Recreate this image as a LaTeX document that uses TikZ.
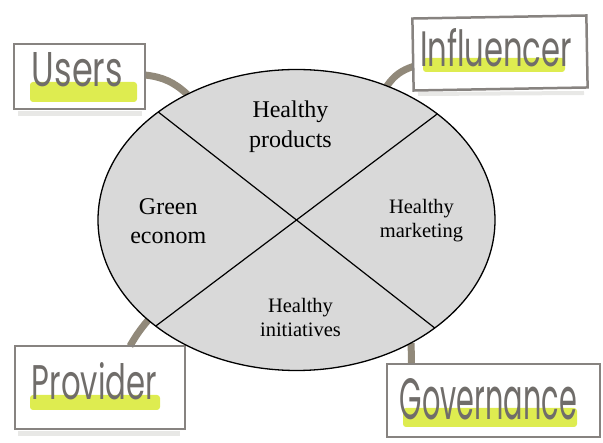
\documentclass[tikz,border=0pt]{standalone}
\usepackage{fontspec}
\setmainfont{Liberation Serif}
\newfontfamily\handfont{Poppins}
\usetikzlibrary{shapes.geometric}
\pgfdeclarelayer{background}
\pgfsetlayers{background,main}
\definecolor{ellfill}{RGB}{217,217,217}
\definecolor{boxgray}{RGB}{135,131,128}
\definecolor{conngray}{RGB}{145,137,122}
\definecolor{hlcol}{RGB}{222,236,80}
\definecolor{handgray}{RGB}{112,109,106}
\definecolor{smudge}{RGB}{232,232,230}
\begin{document}
\begin{tikzpicture}[x=1pt,y=-1pt,
  handbox/.style={draw=boxgray, line width=2.5pt, rectangle, inner sep=0pt, outer sep=0pt},
  handtext/.style={text=handgray, font=\handfont, inner sep=0pt, outer sep=0pt},
  hlmark/.style={fill=hlcol, rounded corners=3pt},
  conn/.style={draw=conngray, line width=7pt},
  big/.style={font=\fontsize{24}{29.5}\selectfont, align=center, inner sep=0pt},
  small/.style={font=\fontsize{20.5}{24}\selectfont, align=center, inner sep=0pt},
  divider/.style={draw=black, line width=1.2pt}
]
\useasboundingbox (0,0) rectangle (603,443);

% highlights
\begin{pgfonlayer}{background}
\fill[hlmark] (30,82) rectangle (137,102);
\fill[hlmark] (423,58) rectangle (565,72);
\fill[hlmark] (30,395) rectangle (160,410);
\fill[hlmark] (403,408) rectangle (577,427);
\draw[smudge, line width=5pt] (18,114) -- (142,114);
\draw[smudge, line width=5pt] (18,434) -- (180,434);
\draw[smudge, line width=4pt] (418,94) -- (584,93);
\end{pgfonlayer}

% boxes
\node[handbox, minimum width=131pt, minimum height=65pt] (users) at (79.5,76.5) {};
\node[handbox, minimum width=174pt, minimum height=72pt, rotate=1] (infl) at (500,53) {};
\node[handbox, minimum width=170pt, minimum height=83pt] (prov) at (100,387.5) {};
\node[handbox, minimum width=213pt, minimum height=73pt] (gov) at (493.5,400.5) {};

\node[handtext] (userst) at ([shift={(-2pt,6.5pt)}]users.center) {\resizebox{91pt}{34pt}{Users}};
\node[handtext] (inflt) at ([shift={(-4pt,5.5pt)}]infl.center) {\resizebox{152pt}{38pt}{Influencer}};
\node[handtext] (provt) at ([shift={(-5.5pt,6pt)}]prov.center) {\resizebox{125pt}{37pt}{Provider}};
\node[handtext] (govt) at ([shift={(-5pt,1.5pt)}]gov.center) {\resizebox{177pt}{41pt}{Governance}};

% ellipse
\node[ellipse, draw=black, line width=1.3pt, fill=ellfill, minimum width=397pt, minimum height=301pt, inner sep=0pt, outer sep=0pt] (ell) at (296.5,220) {};
\draw[divider] (ell.37.1) -- (ell.217.1);
\draw[divider] (ell.142.9) -- (ell.322.9);

\node[big] (prod) at (290.5,126.6) {Healthy\\products};
\node[big] (green) at (168.3,221.2) {Green\\econom};
\node[small] (mark) at (421.5,220.2) {Healthy\\marketing};
\node[small] (init) at (300.5,317.5) {Healthy\\initiatives};

% connectors
\begin{pgfonlayer}{background}
\draw[conn] ([yshift=1.5pt]users.east) to[bend left=18] (ell.131);
\draw[conn] ([yshift=-12pt]infl.west) to[bend right=18] (ell.56);
\draw[conn] ([xshift=30pt]prov.north) to[bend left=5] (ell.214);
\draw[conn] ([xshift=-82pt]gov.north) to (ell.313);
\end{pgfonlayer}
\end{tikzpicture}
\end{document}
